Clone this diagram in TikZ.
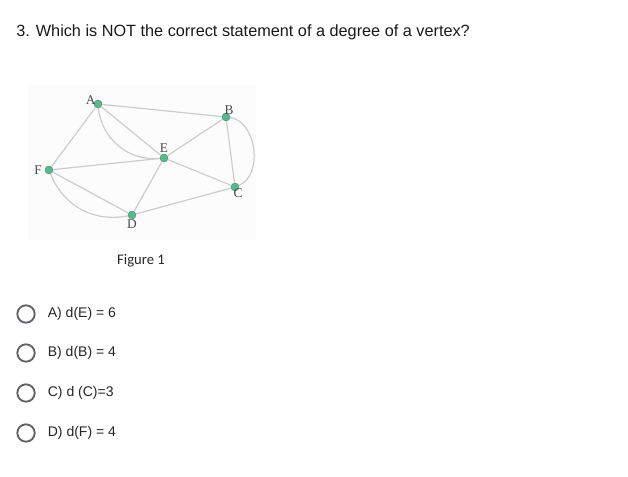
\documentclass[tikz,border=0pt]{standalone}
\usepackage{fontspec}
\setmainfont{Liberation Sans}
\newfontfamily\labelfont{Liberation Serif}
\newfontfamily\captionfont{Carlito}
\usetikzlibrary{positioning}

\definecolor{vertexgreen}{RGB}{86,186,142}
\definecolor{edgegray}{RGB}{205,205,205}
\definecolor{radiogray}{RGB}{95,99,104}

\begin{document}
\begin{tikzpicture}[x=0.75pt, y=-0.75pt]
    % Define styles
    \tikzstyle{vertex} = [circle, fill=vertexgreen, draw=vertexgreen!75!black, line width=0.3pt, inner sep=0pt, minimum size=6pt]
    \tikzstyle{edge} = [draw=edgegray, line width=0.9pt]
    \tikzstyle{vlabel} = [font=\labelfont\fontsize{10}{11}\selectfont, text=black!70, inner sep=0.5pt]
    \tikzstyle{radio} = [circle, draw=radiogray, line width=1.4pt, minimum size=13pt, inner sep=0pt]
    \tikzstyle{answer} = [anchor=west, font=\fontsize{10.5}{12}\selectfont, text=black!85, inner sep=0pt]

    \useasboundingbox (0,0) rectangle (628,476);

    % Question
    \node[anchor=west, font=\fontsize{12.2}{14}\selectfont, text=black!90, inner sep=0pt] (question) at (16,32) {3. Which is NOT the correct statement of a degree of a vertex?};

    % Figure area
    \fill[gray!2.5] (28,85) rectangle (256,240);

    % Place vertices
    \node[vertex] (A) at (98,104) {};
    \node[vertex] (B) at (226,117) {};
    \node[vertex] (E) at (164,158) {};
    \node[vertex] (F) at (49,170) {};
    \node[vertex] (C) at (235,187) {};
    \node[vertex] (D) at (132,215) {};

    % Vertex labels
    \node[vlabel, above left=-3pt and -1pt of A] (lA) {A};
    \node[vlabel, above right=-1pt and -4pt of B] (lB) {B};
    \node[vlabel, above=0.5pt of E] (lE) {E};
    \node[vlabel, left=1.5pt of F] (lF) {F};
    \node[vlabel, below right=-2pt and -4pt of C] (lC) {C};
    \node[vlabel, below=-0.5pt of D] (lD) {D};

    % Draw edges
    \draw[edge] (A) -- (B);
    \draw[edge] (A) -- (E);
    \draw[edge] (A) to[bend right=45] (E);
    \draw[edge] (A) -- (F);
    \draw[edge] (F) -- (E);
    \draw[edge] (F) -- (D);
    \draw[edge] (F) to[bend right=40] (D);
    \draw[edge] (E) -- (D);
    \draw[edge] (E) -- (B);
    \draw[edge] (E) -- (C);
    \draw[edge] (B) -- (C);
    \draw[edge] (B) to[bend left=75] (C);
    \draw[edge] (D) -- (C);

    % Caption
    \node[font=\captionfont\fontsize{11}{13}\selectfont, text=black!85] (caption) at (141,261) {Figure 1};

    % Answer options
    \node[radio] (rA) at (26,314) {};
    \node[radio] (rB) at (26,353) {};
    \node[radio] (rC) at (26,393) {};
    \node[radio] (rD) at (26,433) {};
    \node[answer, right=9pt of rA] (optA) {A) d(E) = 6};
    \node[answer, right=9pt of rB] (optB) {B) d(B) = 4};
    \node[answer, right=9pt of rC] (optC) {C) d (C)=3};
    \node[answer, right=9pt of rD] (optD) {D) d(F) = 4};
\end{tikzpicture}
\end{document}
